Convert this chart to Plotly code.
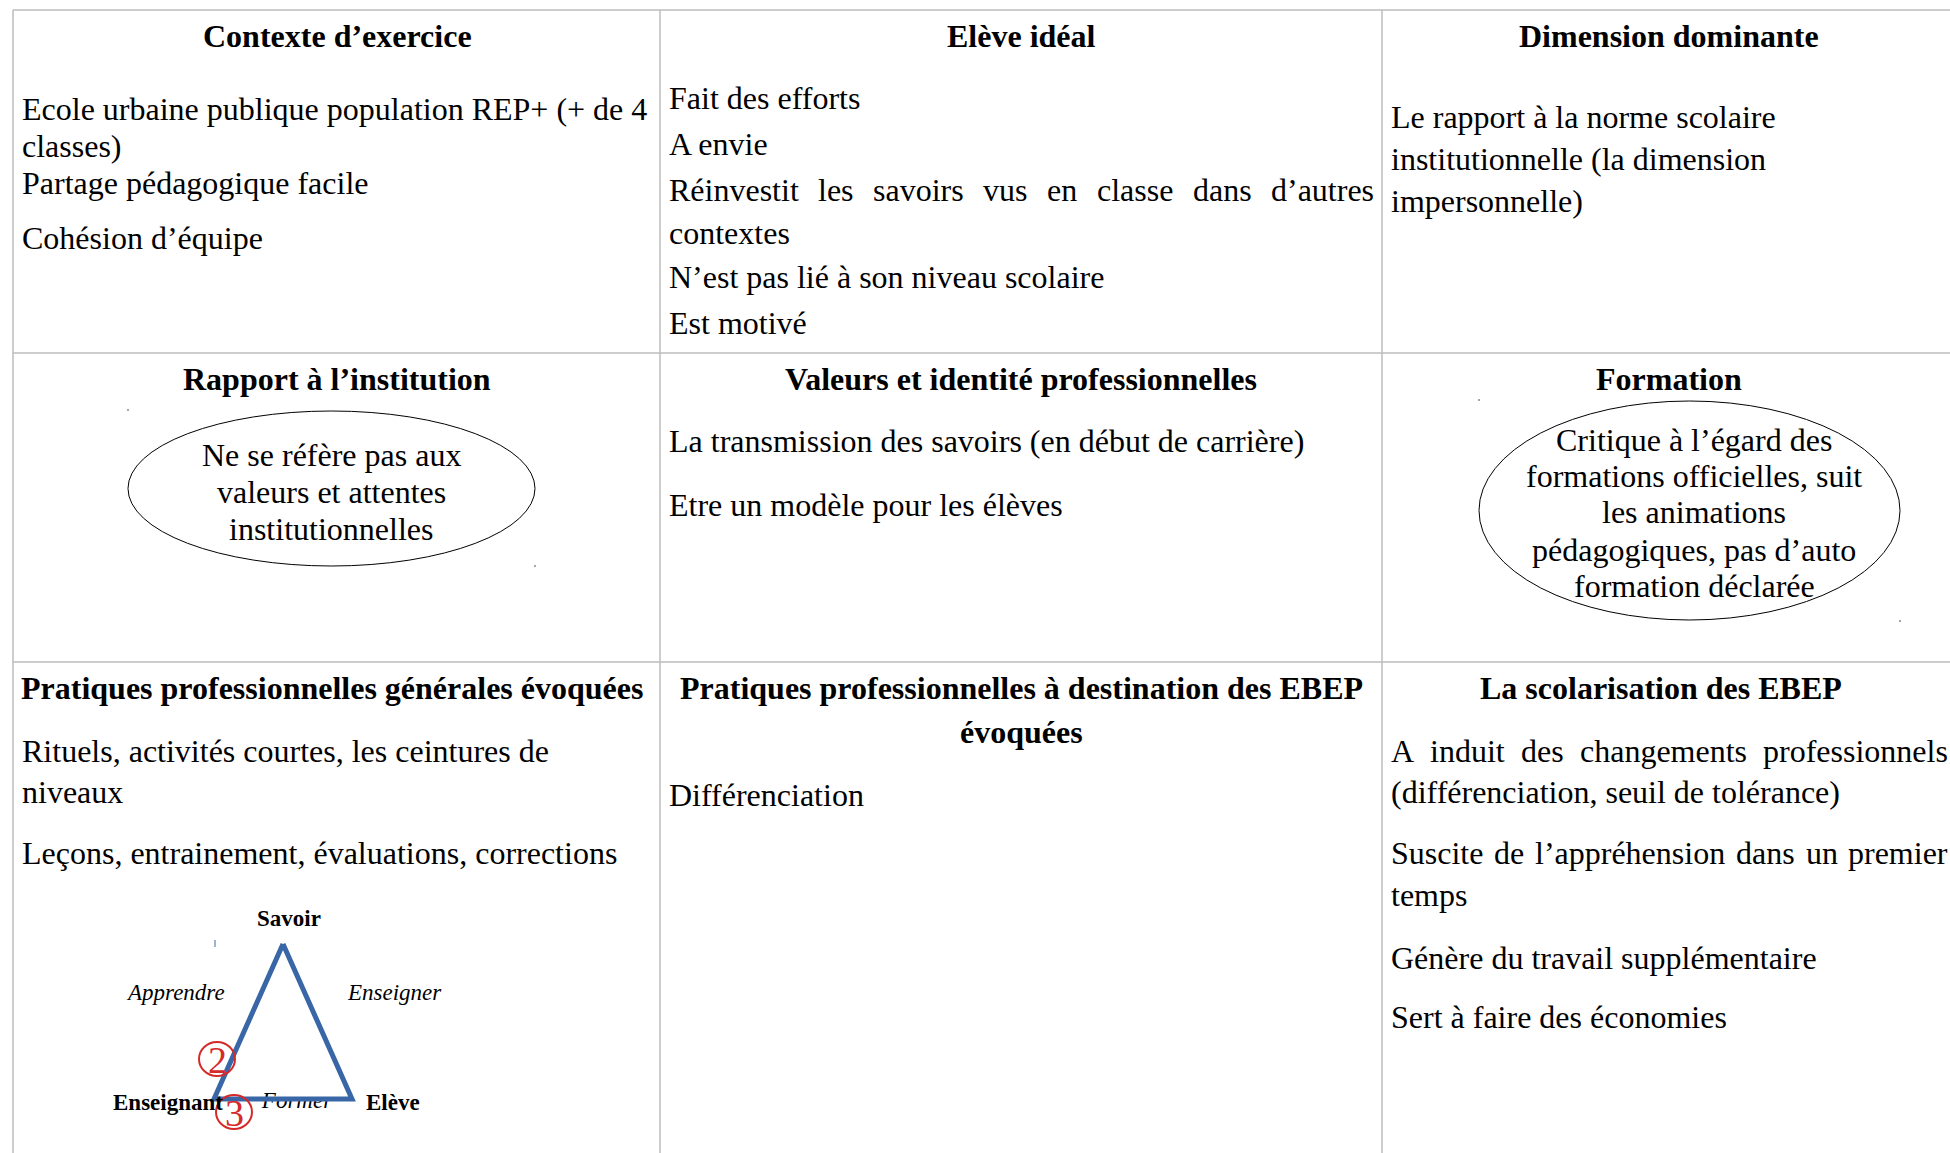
import unicodedata
import plotly.graph_objects as go

W, H = 1950, 1153
OFF = 0
SERIF = "Liberation Serif, Times New Roman, serif"
FS = 32          # body / header font size (px)
DFS = 23         # diagram font size

# ---------------- table content ----------------
headers = ["Contexte d’exercice", "Elève idéal", "Dimension dominante",
           "Rapport à l’institution", "Valeurs et identité professionnelles", "Formation",
           "Pratiques professionnelles générales évoquées",
           "Pratiques professionnelles à destination des EBEP", "évoquées",
           "La scolarisation des EBEP"]
header_x = [337, 1021, 1669, 337, 1021, 1669, 332, 1021, 1021, 1661]
header_y = [36, 36, 36, 379, 379, 379, 688, 688, 732, 688]

contexte_lines = ["Ecole urbaine publique population REP+ (+ de 4", "classes)",
                  "Partage pédagogique facile", "Cohésion d’équipe"]
contexte_y = [109, 146, 183, 238]

eleve_lines = ["Fait des efforts", "A envie",
               "Réinvestit les savoirs vus en classe dans d’autres", "contextes",
               "N’est pas lié à son niveau scolaire", "Est motivé"]
eleve_y = [98, 144, 190, 233, 277, 323]
eleve_justified = [2]

dimension_lines = ["Le rapport à la norme scolaire", "institutionnelle (la dimension",
                   "impersonnelle)"]
dimension_y = [117, 159, 201]

rapport_lines = ["Ne se réfère pas aux", "valeurs et attentes", "institutionnelles"]
rapport_y = [455, 492, 529]

valeurs_lines = ["La transmission des savoirs (en début de carrière)",
                 "Etre un modèle pour les élèves"]
valeurs_y = [441, 505]

formation_lines = ["Critique à l’égard des", "formations officielles, suit",
                   "les animations", "pédagogiques, pas d’auto", "formation déclarée"]
formation_y = [440, 476, 512, 550, 586]

pratiques_lines = ["Rituels, activités courtes, les ceintures de", "niveaux",
                   "Leçons, entrainement, évaluations, corrections"]
pratiques_y = [751, 792, 853]

ebep_lines = ["Différenciation"]
ebep_y = [795]

scolarisation_lines = ["A induit des changements professionnels",
                       "(différenciation, seuil de tolérance)",
                       "Suscite de l’appréhension dans un premier", "temps",
                       "Génère du travail supplémentaire", "Sert à faire des économies"]
scolarisation_y = [751, 792, 853, 895, 958, 1017]
scolarisation_justified = [0, 2]

# triangle diagram
tri_nodes = ["Savoir", "Enseignant", "Elève"]
tri_edges = ["Apprendre", "Enseigner", "Former"]
tri_marks = ["2", "3"]

# ---------------- layout geometry ----------------
col_edges = [13, 660, 1382, 1956]
row_edges = [10, 353, 662, 1200]
col_text_x = [21, 668, 1390]
col_text_right = [652, 1373, 1947]

# Times New Roman widths (per 1000 em) for justification
TNR = {' ': 250, '(': 333, ')': 333, '+': 564, ',': 250, '.': 250, '’': 333, "'": 333,
       'A': 722, 'B': 667, 'C': 667, 'D': 722, 'E': 611, 'F': 556, 'G': 722, 'H': 722,
       'I': 333, 'J': 389, 'K': 722, 'L': 611, 'M': 889, 'N': 722, 'O': 722, 'P': 556,
       'Q': 722, 'R': 667, 'S': 556, 'T': 611, 'U': 722, 'V': 722, 'W': 944, 'X': 722,
       'Y': 722, 'Z': 611,
       'a': 444, 'b': 500, 'c': 444, 'd': 500, 'e': 444, 'f': 333, 'g': 500, 'h': 500,
       'i': 278, 'j': 278, 'k': 500, 'l': 278, 'm': 778, 'n': 500, 'o': 500, 'p': 500,
       'q': 500, 'r': 333, 's': 389, 't': 278, 'u': 500, 'v': 500, 'w': 722, 'x': 500,
       'y': 500, 'z': 444}


def tw(s, size=FS):
    tot = 0
    for c in s:
        b = unicodedata.normalize('NFD', c)[0]
        tot += TNR.get(b, 500)
    return tot / 1000 * size


annotations = []
shapes = []


def add_text(text, x, y, size=FS, xanchor='left', color='black', family=SERIF):
    annotations.append(dict(text=text, x=x, y=y, xref='x', yref='y', showarrow=False,
                            xanchor=xanchor, yanchor='middle', borderpad=0,
                            font=dict(family=family, size=size, color=color)))


def add_lines(lines, ys, col, justified=()):
    x0 = col_text_x[col]
    x1 = col_text_right[col]
    for i, (t, y) in enumerate(zip(lines, ys)):
        if i in justified:
            words = t.split(' ')
            total = sum(tw(w) for w in words)
            gap = (x1 - x0 - total) / (len(words) - 1)
            x = x0
            for w in words:
                add_text(w, x, y)
                x += tw(w) + gap
        else:
            add_text(t, x0, y)


# headers
for t, x, y in zip(headers, header_x, header_y):
    add_text("<b>" + t + "</b>", x, y, xanchor='center')

add_lines(contexte_lines, contexte_y, 0)
add_lines(eleve_lines, eleve_y, 1, eleve_justified)
add_lines(dimension_lines, dimension_y, 2)
add_lines(valeurs_lines, valeurs_y, 1)
add_lines(pratiques_lines, pratiques_y, 0)
add_lines(ebep_lines, ebep_y, 1)
add_lines(scolarisation_lines, scolarisation_y, 2, scolarisation_justified)

for t, y in zip(rapport_lines, rapport_y):
    add_text(t, 331, y, xanchor='center')
for t, y in zip(formation_lines, formation_y):
    add_text(t, 1694, y, xanchor='center')

# grid lines
GRID = '#bdbdbd'
for x in col_edges:
    shapes.append(dict(type='line', xref='x', yref='y', x0=x, x1=x, y0=row_edges[0],
                       y1=row_edges[-1], line=dict(color=GRID, width=1.5)))
for y in row_edges[:-1]:
    shapes.append(dict(type='line', xref='x', yref='y', x0=col_edges[0], x1=col_edges[-1],
                       y0=y, y1=y, line=dict(color=GRID, width=1.5)))

# ellipses
shapes.append(dict(type='circle', xref='x', yref='y', x0=128, x1=535, y0=411, y1=566,
                   line=dict(color='black', width=1)))
shapes.append(dict(type='circle', xref='x', yref='y', x0=1479, x1=1900, y0=401, y1=620,
                   line=dict(color='black', width=1)))

# triangle
tri_x = [283, 214, 352, 283]
tri_y = [944, 1099, 1099, 944]
fig = go.Figure()
# 'Former' sits beneath the triangle base line
fig.add_trace(go.Scatter(x=[297], y=[1102], mode='text', text=["<i>" + tri_edges[2] + "</i>"],
                         textfont=dict(family=SERIF, size=DFS, color='black'),
                         textposition='middle center', hoverinfo='skip', showlegend=False))
fig.add_trace(go.Scatter(x=tri_x, y=tri_y, mode='lines',
                         line=dict(color='#3866a6', width=5), hoverinfo='skip',
                         showlegend=False))
# small dots (text box corners)
fig.add_trace(go.Scatter(x=[128, 535, 1479, 1900], y=[410, 566, 400, 621], mode='markers',
                         marker=dict(size=2, color='#888888'), hoverinfo='skip',
                         showlegend=False))
shapes.append(dict(type='line', xref='x', yref='y', x0=215, x1=215, y0=940, y1=947,
                   line=dict(color='#7a9cc8', width=1.5)))

# diagram labels
add_text("<b>" + tri_nodes[0] + "</b>", 289, 918, size=DFS, xanchor='center')
add_text("<b>" + tri_nodes[1] + "</b>", 168, 1102, size=DFS, xanchor='center')
add_text("<b>" + tri_nodes[2] + "</b>", 393, 1102, size=DFS, xanchor='center')
add_text("<i>" + tri_edges[0] + "</i>", 175, 992, size=DFS, xanchor='center')
add_text("<i>" + tri_edges[1] + "</i>", 394, 992, size=DFS, xanchor='center')

# red circled numbers
mark_x = [217, 234]
mark_y = [1059, 1112]
for t, x, y in zip(tri_marks, mark_x, mark_y):
    shapes.append(dict(type='circle', xref='x', yref='y', x0=x - 18, x1=x + 18,
                       y0=y - 17, y1=y + 17, line=dict(color='#d42a2a', width=2)))
    add_text(t, x, y + 1, size=38, xanchor='center', color='#d42a2a')

fig.update_layout(
    width=W, height=H, margin=dict(l=0, r=0, t=0, b=0),
    paper_bgcolor='white', plot_bgcolor='white',
    xaxis=dict(range=[OFF, W + OFF], visible=False, fixedrange=True),
    yaxis=dict(range=[H + OFF, OFF], visible=False, fixedrange=True),
    shapes=shapes, annotations=annotations, showlegend=False,
)
fig.write_html("out.html", config={'displayModeBar': False},
               post_script="document.body.style.margin='0';"
                           "document.body.style.overflow='hidden';")
